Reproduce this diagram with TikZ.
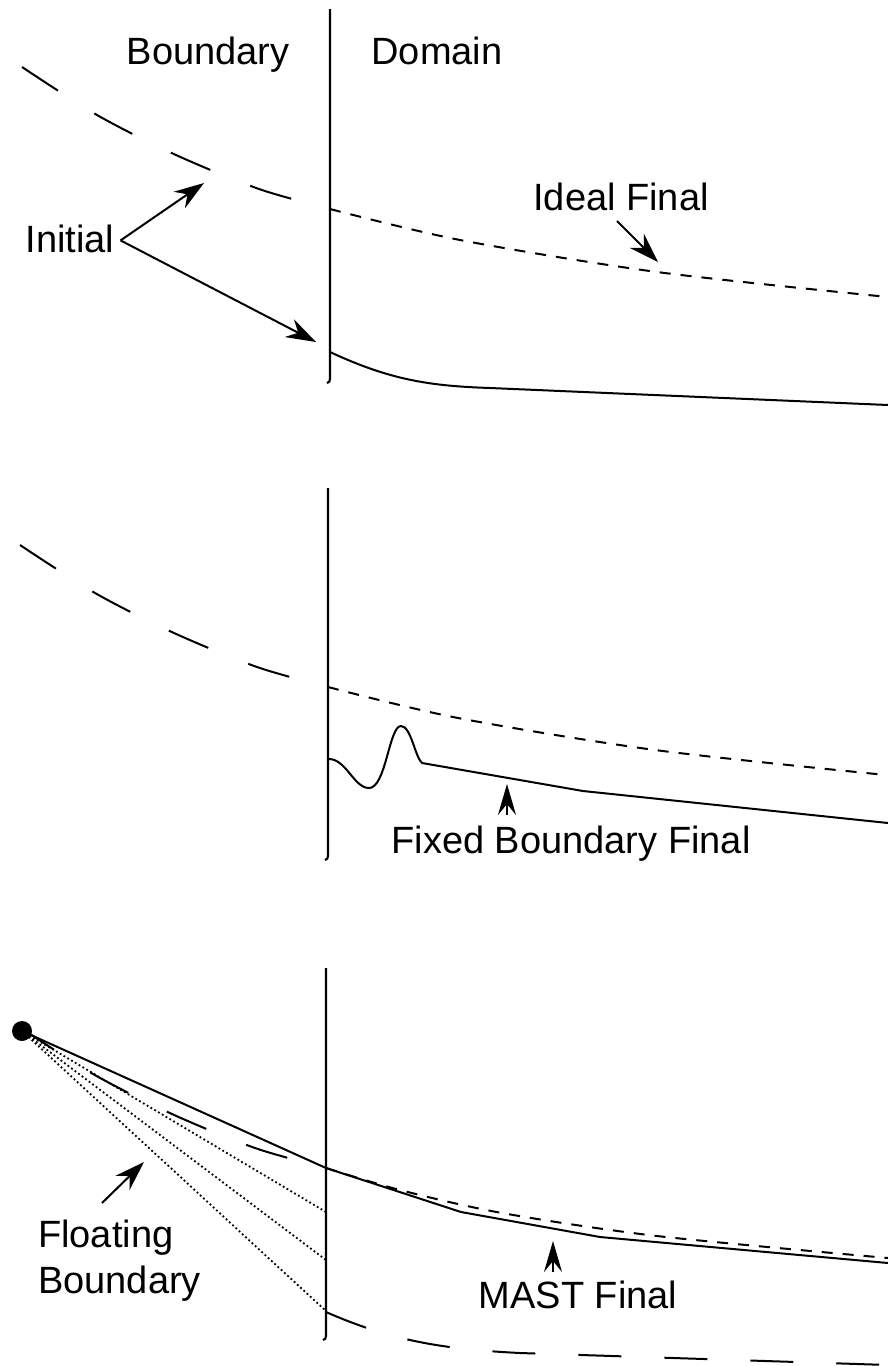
\documentclass[tikz,border=0pt]{standalone}
\usepackage{fontspec}
\setmainfont{Liberation Sans}
\usetikzlibrary{arrows.meta}
\begin{document}
\begin{tikzpicture}[x=1pt,y=-1pt,
  curve/.style={line width=2pt, line join=round, line cap=butt},
  longdash/.style={curve, dash pattern=on 43pt off 43pt},
  shortdash/.style={curve, dash pattern=on 11pt off 10pt},
  dotline/.style={line width=1.8pt, dash pattern=on 1.8pt off 2.6pt},
  wall/.style={line width=2.1pt},
  arr/.style={line width=2pt, -{Stealth[length=30pt,width=20pt,inset=10pt]}},
  uparr/.style={line width=2pt, -{Stealth[length=31pt,width=18pt,inset=11pt]}},
  lbl/.style={inner sep=0pt, font=\fontsize{38}{45}\selectfont}]
\useasboundingbox (0,0) rectangle (888,1366);

% ---------- panel 1 : initial state ----------
\draw[wall] (330,9) -- (330,379) to[out=-90,in=0] (327,383);
\node[lbl, anchor=base] (hdrB) at (208,64) {Boundary};
\node[lbl, anchor=base] (hdrD) at (437,64) {Domain};

\draw[longdash] plot[smooth] coordinates {(22,67) (97,115) (176,155) (259,189) (330,209)};
\draw[shortdash] plot[smooth] coordinates {(330,209) (460,240) (657,272) (888,297)};
\draw[curve] (330,352) .. controls (390,380) and (430,386) .. (490,388) -- (888,405);

\node[lbl, anchor=base] (initlbl) at (70,252) {Initial};
\coordinate (initTipA) at (204,183);
\coordinate (initTipB) at (316,342);
\draw[arr] ([xshift=6pt,yshift=-2pt]initlbl.east) -- (initTipA);
\draw[arr] ([xshift=6pt,yshift=-2pt]initlbl.east) -- (initTipB);

\node[lbl, anchor=base] (ideallbl) at (621,210) {Ideal Final};
\coordinate (idealTail) at (617,221);
\coordinate (idealTip) at (658,262);
\draw[arr] (idealTail) -- (idealTip);

% ---------- panel 2 : fixed boundary ----------
\draw[wall] (328,488) -- (328,856) to[out=-90,in=0] (325,860);
\begin{scope}[shift={(-2,478)}]
  \draw[longdash] plot[smooth] coordinates {(22,67) (97,115) (176,155) (259,189) (330,209)};
  \draw[shortdash] plot[smooth] coordinates {(330,209) (460,240) (657,272) (888,297)};
\end{scope}
\draw[curve] (329,759) .. controls (346,759) and (354,788) .. (369,788)
  .. controls (386,788) and (389,726) .. (401,726)
  .. controls (411,726) and (415,757) .. (422,763) -- (583,791) -- (888,823);

\node[lbl, anchor=base] (fixedlbl) at (571,853) {Fixed Boundary Final};
\coordinate (fixTail) at (507,815);
\coordinate (fixTip) at (507,784);
\draw[uparr] (fixTail) -- (fixTip);

% ---------- panel 3 : floating boundary ----------
\draw[wall] (326,968) -- (326,1336) to[out=-90,in=0] (323,1340);
\begin{scope}[shift={(-4,959)}]
  \draw[longdash] plot[smooth] coordinates {(22,67) (97,115) (176,155) (259,189) (330,209)};
\end{scope}
\draw[longdash] (326,1312) .. controls (390,1340) and (440,1349) .. (520,1353) -- (888,1365);

\node[circle, fill=black, inner sep=0pt, minimum size=20pt] (anchorpt) at (22,1031) {};
\coordinate (wallA) at (326,1212);
\coordinate (wallB) at (326,1260);
\coordinate (wallC) at (326,1311);
\coordinate (wallTop) at (326,1168);
\draw[dotline] (anchorpt.center) -- (wallA);
\draw[dotline] (anchorpt.center) -- (wallB);
\draw[dotline] (anchorpt.center) -- (wallC);

\draw[shortdash] plot[smooth] coordinates {(326,1168) (400,1190) (502,1213) (657,1236) (888,1258)};
\draw[curve] (anchorpt.center) -- (wallTop) -- (461,1212) -- (600,1237) -- (888,1263);

\node[lbl, anchor=base west] (floatA) at (38,1247) {Floating};
\node[lbl, anchor=base west] (floatB) at (38,1293) {Boundary};
\coordinate (floatTail) at (102,1203);
\coordinate (floatTip) at (144,1162);
\draw[arr] (floatTail) -- (floatTip);

\node[lbl, anchor=base] (mastlbl) at (578,1308) {MAST Final};
\coordinate (mastTail) at (553,1272);
\coordinate (mastTip) at (553,1241);
\draw[uparr] (mastTail) -- (mastTip);
\end{tikzpicture}
\end{document}
